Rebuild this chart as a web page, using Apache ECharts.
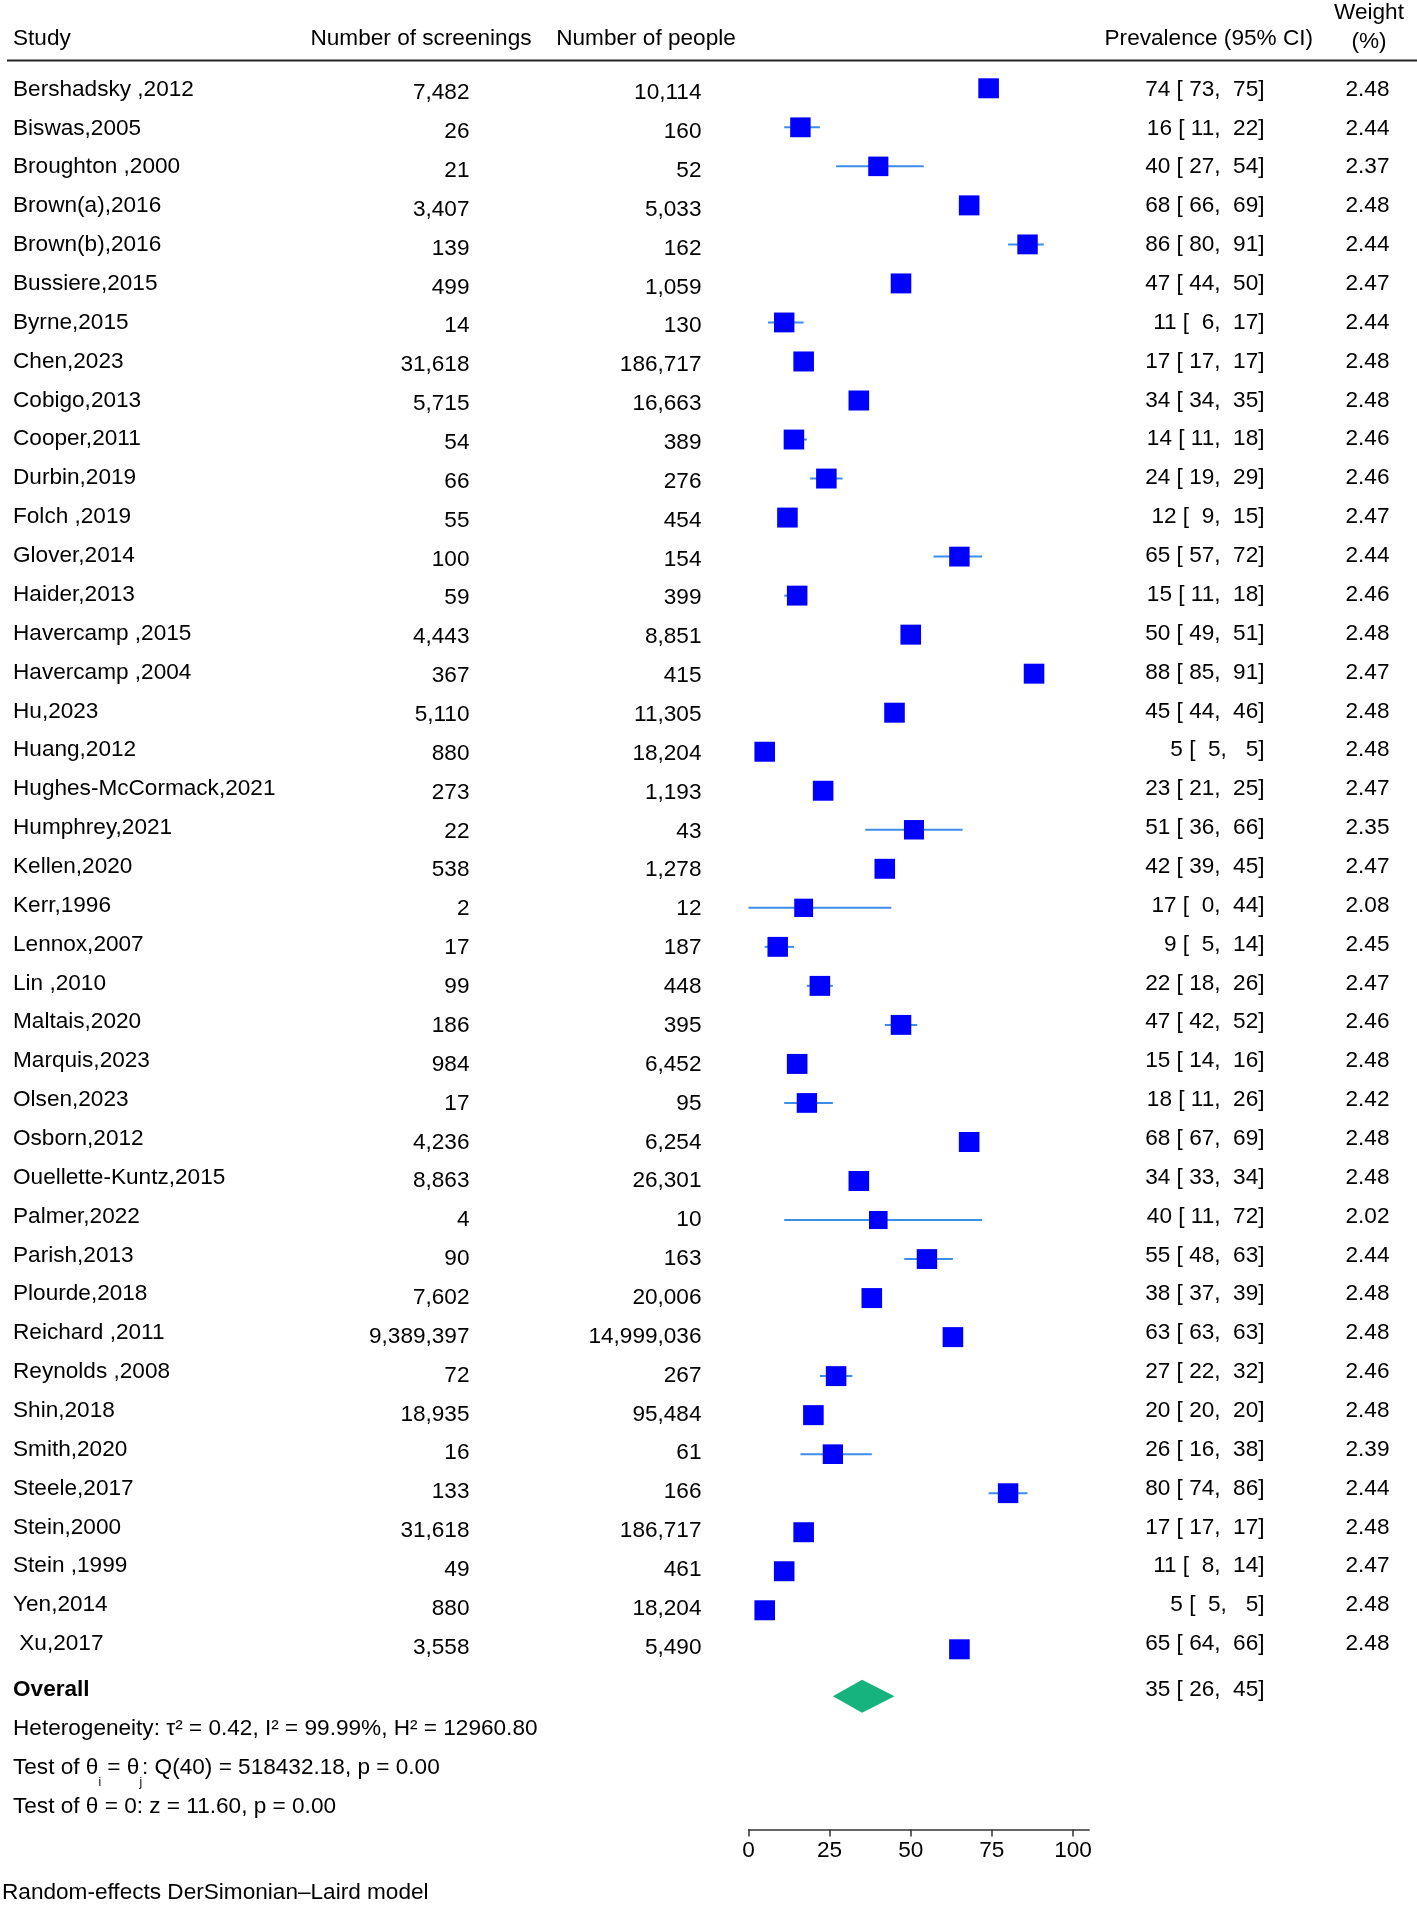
<!DOCTYPE html>
<html><head><meta charset="utf-8">
<script src="https://cdn.jsdelivr.net/npm/echarts@6/dist/echarts.min.js"></script>
<style>html,body{margin:0;padding:0;background:#fff}#c{width:1417px;height:1909px}</style>
</head><body><div id="c"></div>
<script>
// ---------------- data ----------------
const studies = ["Bershadsky ,2012","Biswas,2005","Broughton ,2000","Brown(a),2016","Brown(b),2016","Bussiere,2015","Byrne,2015","Chen,2023","Cobigo,2013","Cooper,2011","Durbin,2019","Folch ,2019","Glover,2014","Haider,2013","Havercamp ,2015","Havercamp ,2004","Hu,2023","Huang,2012","Hughes-McCormack,2021","Humphrey,2021","Kellen,2020","Kerr,1996","Lennox,2007","Lin ,2010","Maltais,2020","Marquis,2023","Olsen,2023","Osborn,2012","Ouellette-Kuntz,2015","Palmer,2022","Parish,2013","Plourde,2018","Reichard ,2011","Reynolds ,2008","Shin,2018","Smith,2020","Steele,2017","Stein,2000","Stein ,1999","Yen,2014"," Xu,2017"];
const screenings = [7482,26,21,3407,139,499,14,31618,5715,54,66,55,100,59,4443,367,5110,880,273,22,538,2,17,99,186,984,17,4236,8863,4,90,7602,9389397,72,18935,16,133,31618,49,880,3558];
const people = [10114,160,52,5033,162,1059,130,186717,16663,389,276,454,154,399,8851,415,11305,18204,1193,43,1278,12,187,448,395,6452,95,6254,26301,10,163,20006,14999036,267,95484,61,166,186717,461,18204,5490];
const estimates = [74,16,40,68,86,47,11,17,34,14,24,12,65,15,50,88,45,5,23,51,42,17,9,22,47,15,18,68,34,40,55,38,63,27,20,26,80,17,11,5,65];
const lowers = [73,11,27,66,80,44,6,17,34,11,19,9,57,11,49,85,44,5,21,36,39,0,5,18,42,14,11,67,33,11,48,37,63,22,20,16,74,17,8,5,64];
const uppers = [75,22,54,69,91,50,17,17,35,18,29,15,72,18,51,91,46,5,25,66,45,44,14,26,52,16,26,69,34,72,63,39,63,32,20,38,86,17,14,5,66];
const weights = [2.48,2.44,2.37,2.48,2.44,2.47,2.44,2.48,2.48,2.46,2.46,2.47,2.44,2.46,2.48,2.47,2.48,2.48,2.47,2.35,2.47,2.08,2.45,2.47,2.46,2.48,2.42,2.48,2.48,2.02,2.44,2.48,2.48,2.46,2.48,2.39,2.44,2.48,2.47,2.48,2.48];
const overallEstimate = 35, overallLower = 26, overallUpper = 45;
const xTicks = [0, 25, 50, 75, 100];
const headers = ["Study", "Number of screenings", "Number of people", "Prevalence (95% CI)", "Weight", "(%)"];
const overallLabel = "Overall";
const heterogeneityText = "Heterogeneity: τ² = 0.42, I² = 99.99%, H² = 12960.80";
const qTestText = "Q(40) = 518432.18, p = 0.00";
const zTestText = "Test of θ = 0: z = 11.60, p = 0.00";
const modelNote = "Random-effects DerSimonian–Laird model";

// ---------------- layout ----------------
const FF = '"Liberation Sans", Arial, Helvetica, sans-serif';
const FS = 22.6;
const COL = {name: 13, scr: 469.5, ppl: 701.5, prev: 1264.5, wt: 1389.5};
const NUM_DY = 3.5;
const pad3 = n => String(n).padStart(3, ' ');
const fmtInt = n => n.toLocaleString('en-US');
const prevText = (e, l, u) => `${e} [${pad3(l)}, ${pad3(u)}]`;
const rowIdx = studies.map((_, i) => i);

function txt(x, y, text, align, extra) {
  return {
    type: 'text',
    style: Object.assign({
      text: text, x: x, y: y, fill: '#000', fontSize: FS, fontFamily: FF,
      align: align, verticalAlign: 'middle', textAlign: align, textVerticalAlign: 'middle'
    }, extra || {})
  };
}

const chart = echarts.init(document.getElementById('c'), null, {renderer: 'canvas'});
const option = {
  animation: false,
  backgroundColor: '#fff',
  grid: {left: 748.5, right: 327.8, top: 50, bottom: 79.5, containLabel: false, outerBoundsMode: 'none'},
  xAxis: {
    type: 'value', position: 'bottom', min: 0, max: 105, interval: 25,
    axisLine: {show: true, onZero: false, lineStyle: {color: '#333', width: 1.5}},
    axisTick: {show: true, length: 7, customValues: xTicks, lineStyle: {color: '#333', width: 1.5}},
    axisLabel: {show: true, customValues: xTicks, fontSize: FS, fontFamily: FF, color: '#000', margin: 10},
    splitLine: {show: false}
  },
  yAxis: [
    {type: 'value', inverse: true, min: -0.98142, max: 44.6176, show: false},
    {type: 'value', inverse: true, min: -1.01641, max: 44.7736, show: false}
  ],
  graphic: [
    {type: 'line', shape: {x1: 7, y1: 60.5, x2: 1417, y2: 60.5}, style: {stroke: '#222', lineWidth: 2.2}},
    txt(13, 39, headers[0], 'left'),
    txt(421, 39, headers[1], 'center'),
    txt(646, 39, headers[2], 'center'),
    txt(1313, 39, headers[3], 'right'),
    txt(1369, 12.5, headers[4], 'center'),
    txt(1369, 42, headers[5], 'center')
  ],
  series: [
    {
      type: 'custom', name: 'table', yAxisIndex: 1, clip: false, silent: true,
      data: rowIdx.map(i => [0, i]),
      renderItem: (params, api) => {
        const i = params.dataIndex;
        const y = api.coord([0, api.value(1)])[1];
        return {type: 'group', children: [
          txt(COL.name, y, studies[i], 'left'),
          txt(COL.scr, y + NUM_DY, fmtInt(screenings[i]), 'right'),
          txt(COL.ppl, y + NUM_DY, fmtInt(people[i]), 'right'),
          txt(COL.prev, y, prevText(estimates[i], lowers[i], uppers[i]), 'right'),
          txt(COL.wt, y, weights[i].toFixed(2), 'right')
        ]};
      }
    },
    {
      type: 'custom', name: 'ci', yAxisIndex: 0, clip: false, silent: true,
      data: rowIdx.map(i => [lowers[i], uppers[i], i]),
      encode: {x: [0, 1], y: 2},
      renderItem: (params, api) => {
        const a = api.coord([api.value(0), api.value(2)]);
        const b = api.coord([api.value(1), api.value(2)]);
        return {type: 'line', shape: {x1: a[0], y1: a[1], x2: b[0], y2: b[1]},
          style: {stroke: '#3d8ee8', lineWidth: 2}};
      }
    },
    {
      type: 'scatter', name: 'estimate', yAxisIndex: 0, silent: true,
      symbol: 'rect',
      data: rowIdx.map(i => [estimates[i], i, weights[i]]),
      symbolSize: v => [20.6 * Math.sqrt(v[2] / 2.48), 20 * Math.sqrt(v[2] / 2.48)],
      itemStyle: {color: '#0000ff', opacity: 1}
    },
    {
      type: 'custom', name: 'overall', yAxisIndex: 0, clip: false, silent: true,
      data: [[overallLower, overallEstimate, overallUpper, 41.2]],
      encode: {x: [0, 1, 2], y: 3},
      renderItem: (params, api) => {
        const r = api.value(3);
        const l = api.coord([api.value(0), r]);
        const c = api.coord([api.value(1), r]);
        const u = api.coord([api.value(2), r]);
        const h = 16.5;
        return {type: 'polygon', shape: {points: [[l[0], l[1]], [c[0], c[1] - h], [u[0], u[1]], [c[0], c[1] + h]]},
          style: {fill: '#17b37e'}};
      }
    },
    {
      type: 'custom', name: 'summary', yAxisIndex: 1, clip: false, silent: true,
      data: [[0, 41.18], [0, 42.18], [0, 43.18], [0, 44.18], [0, 46.41]],
      renderItem: (params, api) => {
        const k = params.dataIndex;
        const y = api.coord([0, api.value(1)])[1];
        if (k === 0) {
          return {type: 'group', children: [
            txt(13, y, overallLabel, 'left', {fontWeight: 'bold'}),
            txt(COL.prev, y, prevText(overallEstimate, overallLower, overallUpper), 'right')
          ]};
        }
        if (k === 1) return txt(13, y, heterogeneityText, 'left');
        if (k === 2) {
          return {type: 'text', style: {
            x: 13, y: y - 11.3, align: 'left', verticalAlign: 'top', textAlign: 'left', textVerticalAlign: 'top',
            text: '{m|Test of θ}{s|i}{m| = θ}{s|j}{m|: ' + qTestText + '}',
            rich: {
              m: {fontSize: FS, fontFamily: FF, fill: '#000', color: '#000', lineHeight: 22.6, verticalAlign: 'top'},
              s: {fontSize: 12, fontFamily: FF, fill: '#000', color: '#000', lineHeight: 12, verticalAlign: 'top', padding: [20, 0, 0, 0]}
            }
          }};
        }
        if (k === 3) return txt(13, y, zTestText, 'left');
        return txt(2, y, modelNote, 'left');
      }
    }
  ]
};
chart.setOption(option);
</script>
</body></html>
